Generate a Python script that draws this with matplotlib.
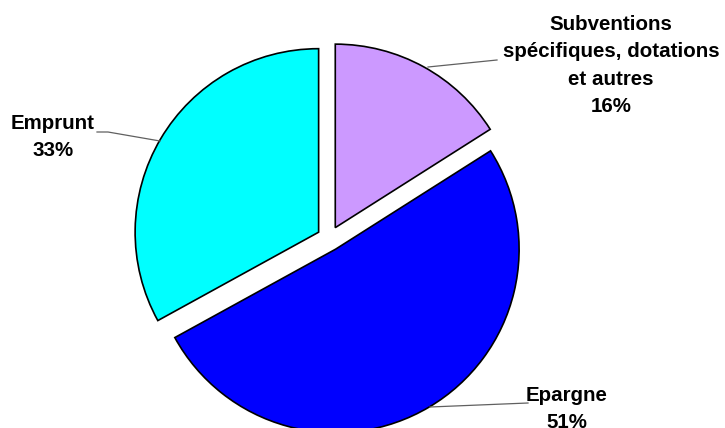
import matplotlib.pyplot as plt

plt.rcParams['font.family'] = ['Liberation Sans', 'DejaVu Sans']

# financing shares (%), drawn clockwise from the top
sources = ["Subventions\nspécifiques, dotations\net autres", "Epargne", "Emprunt"]
shares = [16, 51, 33]
colors = ["#CC99FF", "#0000FF", "#00FFFF"]

# label anchor (x, top y) and leader line points, in pixel units (y up)
label_pos = [(611, 413), (567, 42), (53, 314)]
leaders = [
    [(428, 361), (497, 368)],
    [(430, 21), (528, 25)],
    [(160, 287), (108, 296), (97, 296)],
]

fig = plt.figure(figsize=(7.25, 4.28), dpi=100)
ax = fig.add_axes([0, 0, 1, 1])

ax.pie(shares, colors=colors, startangle=90, counterclock=False,
       center=(329.3, 189.5), radius=183.5, explode=[12.4] * len(shares),
       wedgeprops=dict(edgecolor="black", linewidth=1.2))

for name, val, (x, y), pts in zip(sources, shares, label_pos, leaders):
    ax.text(x, y, f"{name}\n{val}%", ha="center", va="top", fontsize=14.8,
            fontweight="bold", linespacing=1.55, color="black")
    xs, ys = zip(*pts)
    ax.plot(xs, ys, color="#606060", lw=0.9)

ax.set_xlim(0, 725)
ax.set_ylim(0, 428)
ax.set_aspect("equal")
ax.axis("off")

fig.savefig("out.png", dpi=100)
